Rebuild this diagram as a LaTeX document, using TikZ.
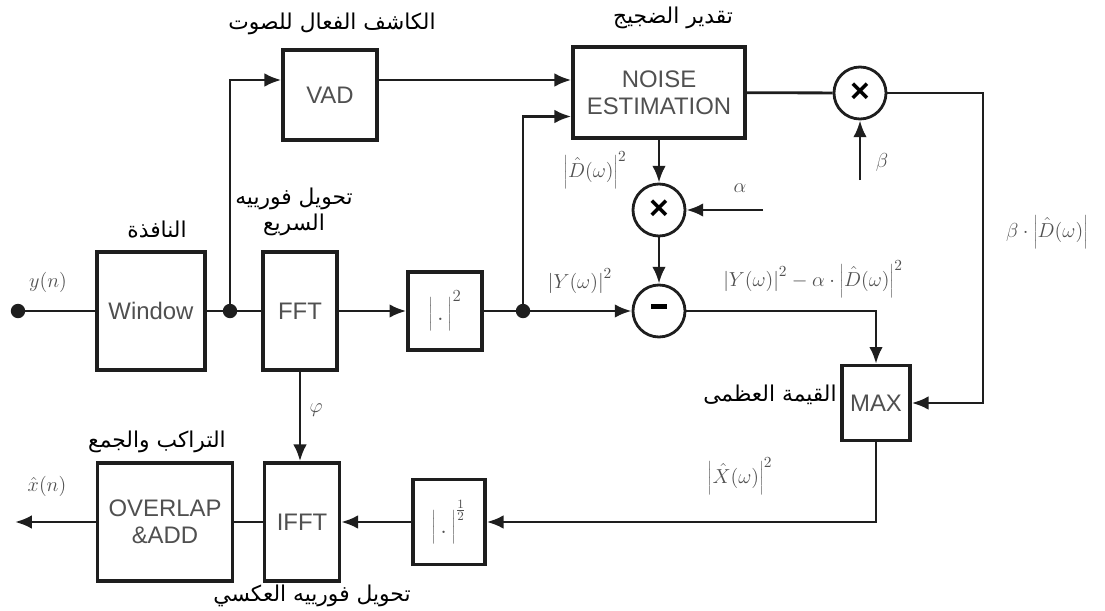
\documentclass[tikz,border=0pt]{standalone}
\usepackage{fontspec}
\setmainfont{Liberation Sans}
\newfontfamily\arabicfont[Script=Arabic]{DejaVu Sans}
\TeXXeTstate=1
\usetikzlibrary{arrows.meta, positioning, calc}
\definecolor{BlockInk}{HTML}{1E1E1E}
\definecolor{LabelGrey}{HTML}{505050}
\newcommand{\BlockFont}{\fontsize{17pt}{19pt}\selectfont}
\newcommand{\ArabicFont}{\arabicfont\fontsize{15.5pt}{19pt}\selectfont}
\newcommand{\ArText}[1]{\beginR #1\endR}

\begin{document}
\begin{tikzpicture}[x=0.025cm, y=-0.025cm,
  block/.style={draw=BlockInk, line width=2.4pt, fill=white, text=LabelGrey,
    font=\BlockFont, align=center, inner sep=0pt},
  opnode/.style={draw=BlockInk, line width=2pt, circle, minimum size=1.3cm,
    inner sep=0pt, font=\bfseries\fontsize{24pt}{24pt}\selectfont},
  wire/.style={line width=2pt, draw=BlockInk},
  flow/.style={wire, -{Latex[length=4.2mm, width=3.4mm]}},
  dot/.style={circle, fill=BlockInk, minimum size=3.6mm, inner sep=0pt},
  mathlbl/.style={text=LabelGrey, font=\fontsize{15pt}{17pt}\selectfont},
  arlbl/.style={text=black, font=\ArabicFont, align=center}]
  \useasboundingbox (0,0) rectangle (1105,611);

  % blocks
  \node[block, minimum width=2.7cm, minimum height=2.95cm] (win) at (151,311) {Window};
  \node[block, minimum width=1.85cm, minimum height=2.95cm] (fft) at (300,311) {FFT};
  \node[block, minimum width=2.35cm, minimum height=2.25cm] (vad) at (330,95) {VAD};
  \node[block, minimum width=4.3cm, minimum height=2.275cm] (noise) at (659,92.5) {NOISE\\ESTIMATION};
  \node[block, minimum width=1.85cm, minimum height=1.95cm, font=\fontsize{18pt}{18pt}\selectfont] (sq) at (445,311)
    {$\Bigg|\,.\,\Bigg|^{2}$};
  \node[block, minimum width=1.7cm, minimum height=1.875cm] (max) at (876,403) {MAX};
  \node[block, minimum width=1.8cm, minimum height=2.125cm, font=\fontsize{18pt}{18pt}\selectfont] (sqrtb) at (449,522)
    {$\Bigg|\,.\,\Bigg|^{\frac{1}{2}}$};
  \node[block, minimum width=1.875cm, minimum height=2.95cm] (ifft) at (302,522) {IFFT};
  \node[block, minimum width=3.375cm, minimum height=2.95cm] (ola) at (165,522) {OVERLAP\\\&ADD};

  % operators
  \node[opnode] (mulA) at (659,210) {×};
  \node[opnode] (sub) at (659,311) {\rule[0.25em]{0.45em}{0.14em}};
  \node[opnode] (mulB) at (860,93) {×};

  % junctions and free ends
  \node[dot] (in) at (18,311) {};
  \node[dot] (jA) at (230,311) {};
  \node[dot] (jB) at (523,311) {};
  \coordinate (vadin) at ($(vad.west)+(0,-15)$);
  \coordinate (vadout) at ($(vad.east)+(0,-15)$);
  \coordinate (noiseinB) at ($(noise.west)+(0,24)$);
  \coordinate (alpha) at (763,210);
  \coordinate (beta) at (860,180);
  \coordinate (rt) at (983,93);
  \coordinate (out) at (15,522);

  % connectors
  \draw[wire] (in) -- (win);
  \draw[wire] (win) -- (jA) -- (fft);
  \draw[flow] (jA) |- (vadin);
  \draw[flow] (vadout) -- (vadout -| noise.west);
  \draw[flow] (fft) -- (sq);
  \draw[wire] (sq) -- (jB);
  \draw[flow] (jB) -- (sub);
  \draw[flow] (jB) |- (noiseinB);
  \draw[flow] (noise) -- (mulA);
  \draw[flow] (mulA) -- (sub);
  \draw[flow] (alpha) -- (mulA);
  \draw[wire] (noise) -- (mulB);
  \draw[flow] (beta) -- (mulB);
  \draw[flow] (mulB) -- (rt) |- (max.east);
  \draw[flow] (sub) -| (max);
  \draw[flow] (max) |- (sqrtb);
  \draw[flow] (sqrtb) -- (ifft);
  \draw[wire] (ifft) -- (ola);
  \draw[flow] (ola) -- (out);
  \draw[flow] (fft.south) -- (fft.south |- ifft.north);

  % signal labels
  \node[mathlbl] (lyn) at (48,282) {$y(n)$};
  \node[mathlbl] (lxn) at (47,486) {$\hat{x}(n)$};
  \node[mathlbl] (ldn) at (595,170) {$\left|\hat{D}(\omega)\right|^{2}$};
  \node[mathlbl] (lal) at (740,188) {$\alpha$};
  \node[mathlbl] (lbe) at (882,162) {$\beta$};
  \node[mathlbl] (lyw) at (580,281) {$\left|Y(\omega)\right|^{2}$};
  \node[mathlbl] (ldiff) at (813,279) {$\left|Y(\omega)\right|^{2}-\alpha\cdot\left|\hat{D}(\omega)\right|^{2}$};
  \node[mathlbl] (lbd) at (1047,232) {$\beta\cdot\left|\hat{D}(\omega)\right|$};
  \node[mathlbl] (lxw) at (740,476) {$\left|\hat{X}(\omega)\right|^{2}$};
  \node[mathlbl] (lphi) at (316,410) {$\varphi$};

  % arabic captions
  \node[arlbl] (avad) at (332,24) {\ArText{الكاشف الفعال للصوت}};
  \node[arlbl] (anoise) at (673,18) {\ArText{تقدير الضجيج}};
  \node[arlbl] (afft) at (294,212) {\ArText{تحويل فورييه}\\\ArText{السريع}};
  \node[arlbl] (awin) at (157,230) {\ArText{النافذة}};
  \node[arlbl] (amax) at (770,395) {\ArText{القيمة العظمى}};
  \node[arlbl] (aola) at (157,442) {\ArText{التراكب والجمع}};
  \node[arlbl] (aifft) at (312,596) {\ArText{تحويل فورييه العكسي}};
\end{tikzpicture}
\end{document}
